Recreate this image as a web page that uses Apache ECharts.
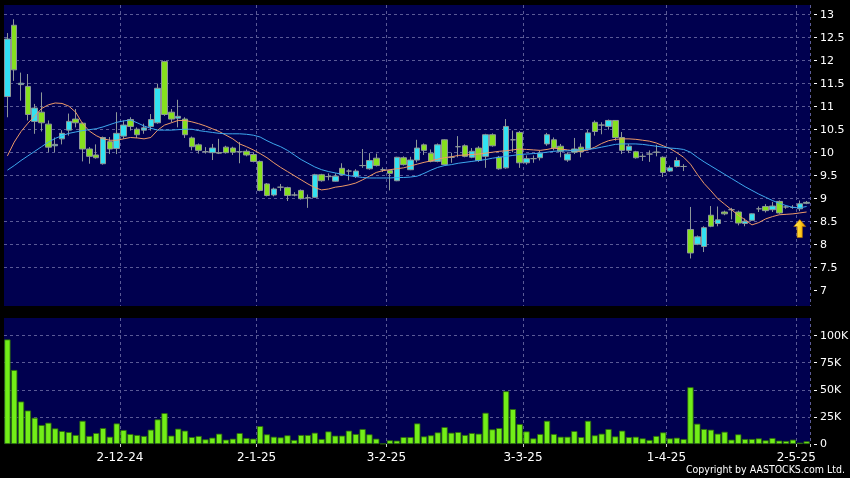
<!DOCTYPE html>
<html>
<head>
<meta charset="utf-8">
<script src="https://cdn.jsdelivr.net/npm/echarts@6/dist/echarts.min.js"></script>
<style>
html,body{margin:0;padding:0;background:#000;}
#c{width:850px;height:478px;}
</style>
</head>
<body>
<div id="c"></div>
<script>
const dates = [
'7-11-24','8-11-24','11-11-24','12-11-24','13-11-24','14-11-24','15-11-24','18-11-24','19-11-24','20-11-24','21-11-24','22-11-24','25-11-24','26-11-24','27-11-24','28-11-24','29-11-24',
'2-12-24','3-12-24','4-12-24','5-12-24','6-12-24','9-12-24','10-12-24','11-12-24','12-12-24','13-12-24','16-12-24','17-12-24','18-12-24','19-12-24','20-12-24','23-12-24','24-12-24','27-12-24','30-12-24','31-12-24',
'2-1-25','3-1-25','6-1-25','7-1-25','8-1-25','9-1-25','10-1-25','13-1-25','14-1-25','15-1-25','16-1-25','17-1-25','20-1-25','21-1-25','22-1-25','23-1-25','24-1-25','27-1-25','28-1-25',
'3-2-25','4-2-25','5-2-25','6-2-25','7-2-25','10-2-25','11-2-25','12-2-25','13-2-25','14-2-25','17-2-25','18-2-25','19-2-25','20-2-25','21-2-25','24-2-25','25-2-25','26-2-25','27-2-25','28-2-25',
'3-3-25','4-3-25','5-3-25','6-3-25','7-3-25','10-3-25','11-3-25','12-3-25','13-3-25','14-3-25','17-3-25','18-3-25','19-3-25','20-3-25','21-3-25','24-3-25','25-3-25','26-3-25','27-3-25','28-3-25','31-3-25',
'1-4-25','2-4-25','3-4-25','7-4-25','8-4-25','9-4-25','10-4-25','11-4-25','14-4-25','15-4-25','16-4-25','17-4-25','22-4-25','23-4-25','24-4-25','25-4-25','28-4-25','29-4-25','30-4-25',
'2-5-25','6-5-25'
];
const tickLabels = ['2-12-24','2-1-25','3-2-25','3-3-25','1-4-25','2-5-25'];
const priceTicks = [7,7.5,8,8.5,9,9.5,10,10.5,11,11.5,12,12.5,13];
const volTicks = [0,25,50,75,100];

const opens = [
11.22,12.77,11.48,11.44,10.68,10.88,10.62,10.15,10.30,10.49,
10.73,10.64,10.08,9.95,9.76,10.24,10.09,10.36,10.72,10.51,
10.49,10.57,10.65,11.98,10.88,10.75,10.73,10.32,10.17,10.02,
10.00,10.00,10.12,10.10,10.02,10.03,9.96,9.81,9.32,9.08,
9.25,9.24,9.08,9.18,9.02,9.03,9.52,9.48,9.38,9.66,
9.60,9.48,9.72,9.65,9.88,9.63,9.61,9.39,9.89,9.63,
9.84,10.17,9.99,9.81,10.28,9.90,10.13,10.15,9.90,10.10,
9.92,10.39,9.90,9.67,10.28,10.44,9.78,9.87,9.89,10.19,
10.28,10.14,9.84,10.01,10.12,10.08,10.66,10.60,10.57,10.70,
10.33,10.05,10.02,9.92,9.97,10.01,9.90,9.60,9.70,9.70,
8.33,8.01,7.96,8.64,8.46,8.71,8.76,8.71,8.46,8.53,
8.78,8.83,8.76,8.94,8.82,8.81,8.78,8.90];
const closes = [
12.47,11.80,11.51,10.83,10.97,10.65,10.12,10.18,10.42,10.68,
10.65,10.08,9.92,9.89,10.33,10.08,10.42,10.60,10.57,10.39,
10.54,10.72,11.40,10.83,10.73,10.79,10.39,10.13,10.05,10.02,
10.10,9.99,10.00,10.01,10.02,9.95,9.81,9.18,9.07,9.21,
9.25,9.07,9.08,9.00,9.02,9.52,9.39,9.48,9.49,9.52,
9.60,9.60,9.72,9.83,9.72,9.63,9.55,9.90,9.74,9.84,
10.10,10.05,9.81,10.17,9.74,9.90,10.13,9.92,10.03,9.83,
10.39,10.15,9.65,10.57,10.28,9.78,9.87,9.87,9.99,10.39,
10.10,10.03,9.97,10.08,10.02,10.43,10.46,10.60,10.70,10.33,
10.05,10.14,9.89,9.92,9.97,10.01,9.57,9.67,9.83,9.70,
7.82,8.17,8.37,8.40,8.54,8.67,8.76,8.47,8.51,8.67,
8.78,8.74,8.84,8.69,8.82,8.81,8.89,8.92];
const lows = [
10.77,11.56,11.13,10.70,10.41,10.46,10.01,10.01,10.18,10.37,
10.55,9.81,9.76,9.87,9.74,9.97,9.97,10.30,10.48,10.32,
10.41,10.48,10.63,10.80,10.66,10.55,10.32,10.05,9.98,9.98,
9.84,9.97,9.98,9.95,9.77,9.92,9.79,9.16,9.05,9.05,
9.17,8.95,9.05,8.98,8.80,9.02,9.37,9.40,9.37,9.50,
9.40,9.45,9.67,9.63,9.70,9.58,9.18,9.38,9.72,9.62,
9.79,9.95,9.79,9.79,9.72,9.78,9.90,9.90,9.88,9.80,
9.67,10.13,9.63,9.65,10.01,9.67,9.74,9.78,9.83,10.15,
10.05,9.90,9.80,9.97,9.90,10.05,10.37,10.40,10.50,10.26,
9.97,9.99,9.87,9.82,9.80,9.92,9.47,9.58,9.68,9.60,
7.70,7.99,7.84,8.38,8.40,8.64,8.55,8.42,8.40,8.52,
8.71,8.70,8.71,8.67,8.78,8.78,8.73,8.88];
const highs = [
12.60,12.90,11.74,11.71,11.06,11.31,10.70,10.33,10.49,10.85,
10.95,10.66,10.12,10.18,10.35,10.34,10.88,10.70,10.77,10.55,
10.63,10.84,11.50,12.00,10.95,11.15,10.77,10.35,10.20,10.12,
10.19,10.30,10.15,10.13,10.23,10.07,10.01,9.83,9.34,9.24,
9.32,9.26,9.14,9.20,9.09,9.54,9.54,9.55,9.55,9.77,
9.64,9.64,10.08,9.99,9.98,9.68,9.63,9.91,9.92,9.91,
10.28,10.20,10.07,10.20,10.29,10.00,10.36,10.18,10.10,10.14,
10.41,10.42,9.93,10.73,10.48,10.47,9.94,9.94,10.04,10.43,
10.33,10.19,10.01,10.32,10.20,10.49,10.70,10.66,10.72,10.70,
10.45,10.19,10.04,9.98,10.05,10.17,9.92,9.72,9.90,9.75,
8.82,8.20,8.40,8.84,8.83,8.74,8.80,8.74,8.57,8.68,
8.83,8.88,8.93,8.96,8.85,8.86,8.96,8.95];
const ma10 = [
9.93,10.23,10.46,10.64,10.80,10.96,11.04,11.08,11.07,11.01,
10.88,10.63,10.47,10.37,10.30,10.27,10.27,10.30,10.33,10.32,
10.30,10.33,10.49,10.60,10.65,10.70,10.70,10.67,10.63,10.58,
10.52,10.46,10.38,10.30,10.19,10.13,10.06,9.98,9.89,9.78,
9.68,9.59,9.50,9.41,9.32,9.24,9.19,9.21,9.25,9.27,
9.30,9.34,9.41,9.49,9.57,9.61,9.63,9.65,9.67,9.71,
9.75,9.79,9.82,9.86,9.89,9.91,9.94,9.95,9.96,9.97,
9.99,10.01,10.03,10.04,10.06,10.08,10.07,10.06,10.05,10.07,
10.10,10.08,10.06,10.04,10.03,10.06,10.12,10.20,10.26,10.29,
10.30,10.30,10.29,10.27,10.25,10.21,10.15,10.09,10.00,9.90,
9.75,9.53,9.33,9.17,9.00,8.88,8.76,8.64,8.54,8.43,
8.48,8.56,8.61,8.65,8.66,8.67,8.69,8.71];
const ma20 = [
9.62,9.72,9.83,9.93,10.03,10.13,10.23,10.31,10.37,10.42,
10.45,10.48,10.50,10.52,10.56,10.61,10.66,10.69,10.71,10.65,
10.58,10.53,10.49,10.49,10.49,10.50,10.51,10.51,10.48,10.46,
10.44,10.42,10.41,10.41,10.41,10.40,10.38,10.34,10.26,10.19,
10.13,10.05,9.95,9.85,9.77,9.69,9.63,9.59,9.56,9.53,
9.50,9.48,9.46,9.45,9.45,9.45,9.45,9.46,9.46,9.47,
9.49,9.55,9.62,9.68,9.72,9.74,9.77,9.79,9.81,9.83,
9.85,9.88,9.90,9.92,9.94,9.96,9.97,9.98,9.99,10.01,
10.03,10.04,10.04,10.05,10.06,10.07,10.09,10.12,10.15,10.18,
10.19,10.19,10.19,10.18,10.16,10.14,10.12,10.10,10.09,10.07,
10.01,9.90,9.80,9.71,9.62,9.53,9.44,9.35,9.26,9.18,
9.10,9.03,8.96,8.90,8.85,8.81,8.80,8.83];
const volK = [
96.5,68.3,39.2,30.9,24.2,17.5,19.6,14.4,11.9,11.0,
8.3,21.4,7.4,10.1,14.7,6.7,19.0,12.9,9.2,8.3,
7.4,13.2,22.7,28.5,7.7,14.1,12.3,6.4,7.4,4.3,
5.8,9.5,4.0,4.9,10.1,5.5,4.9,16.5,8.9,6.7,
6.1,8.0,3.7,8.3,8.3,10.4,4.6,11.6,7.7,7.7,
12.3,9.2,13.8,8.9,4.9,0.3,3.4,3.1,6.4,6.4,
19.0,7.0,8.0,10.7,15.6,10.4,11.0,8.3,10.1,9.5,
28.8,13.5,14.7,48.7,32.2,18.4,11.6,5.2,9.2,21.4,
9.2,6.7,6.7,11.9,6.4,21.4,8.0,9.5,13.8,7.0,
12.3,6.4,6.7,5.2,3.7,7.4,10.7,5.2,5.8,4.6,
52.4,18.7,13.8,13.2,9.5,11.3,4.0,8.9,4.6,4.6,
5.2,3.4,5.5,3.1,2.8,4.0,1.2,2.5];
const arrowDate = '2-5-25';
const arrowPrice = 8.35;

const candleData = dates.map((d, i) => [opens[i], closes[i], lows[i], highs[i]]);
const isTick = (idx, val) => tickLabels.indexOf(val) >= 0;
const gridLine = { show: true, interval: isTick, lineStyle: { color: '#5a5a96', type: [3, 3], width: 1 } };
const hGridLine = { show: true, showMinLine: false, lineStyle: { color: '#5a5a96', type: [3, 3], width: 1 } };
const FONT = 'DejaVu Sans';

const chart = echarts.init(document.getElementById('c'), null, { renderer: 'canvas' });
chart.setOption({
  animation: false,
  backgroundColor: '#000000',
  grid: [
    { left: 4, width: 806, top: 5, height: 301, show: true, backgroundColor: '#00004f', borderWidth: 0, outerBoundsMode: 'none' },
    { left: 4, width: 806, top: 318, height: 126, show: true, backgroundColor: '#00004f', borderWidth: 0, outerBoundsMode: 'none' }
  ],
  xAxis: [
    { type: 'category', gridIndex: 0, data: dates, boundaryGap: true,
      axisLine: { show: false }, axisTick: { show: false }, axisLabel: { show: false },
      splitLine: gridLine },
    { type: 'category', gridIndex: 1, data: dates, boundaryGap: true, offset: 3,
      axisLine: { show: false },
      axisTick: { show: true, interval: isTick, length: 3, alignWithLabel: false, lineStyle: { color: '#cccccc' } },
      axisLabel: { show: true, interval: isTick, color: '#ffffff', fontSize: 12, fontFamily: FONT, margin: 5, padding: [0, 7, 0, 0] },
      splitLine: gridLine }
  ],
  yAxis: [
    { type: 'value', gridIndex: 0, position: 'right', min: 6.667, max: 13.21, offset: 4,
      axisLine: { show: false },
      axisTick: { show: true, length: 3, customValues: priceTicks, lineStyle: { color: '#ffffff' } },
      axisLabel: { show: true, customValues: priceTicks, color: '#ffffff', fontSize: 11, fontFamily: FONT, margin: 6 },
      splitLine: hGridLine },
    { type: 'value', gridIndex: 1, position: 'right', min: 0, max: 116.3, offset: 4,
      axisLine: { show: false },
      axisTick: { show: true, length: 3, customValues: volTicks, lineStyle: { color: '#ffffff' } },
      axisLabel: { show: true, customValues: volTicks, color: '#ffffff', fontSize: 11, fontFamily: FONT, margin: 6,
        formatter: v => v === 0 ? '0' : v + 'K' },
      splitLine: hGridLine }
  ],
  series: [
    { type: 'candlestick', xAxisIndex: 0, yAxisIndex: 0, data: candleData, barWidth: 6,
      itemStyle: { color: '#32e2f2', color0: '#86e01e', borderColor: '#8e9898', borderColor0: '#8e9898', borderWidth: 1 },
      markPoint: {
        silent: true,
        data: [{
          coord: [arrowDate, arrowPrice],
          symbol: 'path://M6,0 L12,7 L8.6,7 L8.6,18 L3.4,18 L3.4,7 L0,7 Z',
          symbolSize: [12, 18],
          itemStyle: { color: { type: 'linear', x: 0, y: 0, x2: 1, y2: 0, colorStops: [
            { offset: 0, color: '#fff060' }, { offset: 0.55, color: '#ffcc1c' }, { offset: 1, color: '#e08c00' } ] },
            borderColor: '#b87000', borderWidth: 0.6 },
          label: { show: false }
        }]
      }
    },
    { type: 'line', xAxisIndex: 0, yAxisIndex: 0, data: ma10, showSymbol: false, symbol: 'none',
      lineStyle: { color: '#ee9a68', width: 1 }, z: 3 },
    { type: 'line', xAxisIndex: 0, yAxisIndex: 0, data: ma20, showSymbol: false, symbol: 'none',
      lineStyle: { color: '#3ea8ee', width: 1 }, z: 3 },
    { type: 'bar', xAxisIndex: 1, yAxisIndex: 1, data: volK, barWidth: 6.2,
      itemStyle: { color: '#72ee18', borderColor: '#2c6a0a', borderWidth: 0.8 } }
  ],
  graphic: [
    { type: 'text', right: 5, top: 465,
      style: { text: 'Copyright by AASTOCKS.com Ltd.', fill: '#ffffff', font: '10.5px "DejaVu Sans Condensed", "DejaVu Sans", sans-serif' } }
  ]
});
</script>
</body>
</html>
